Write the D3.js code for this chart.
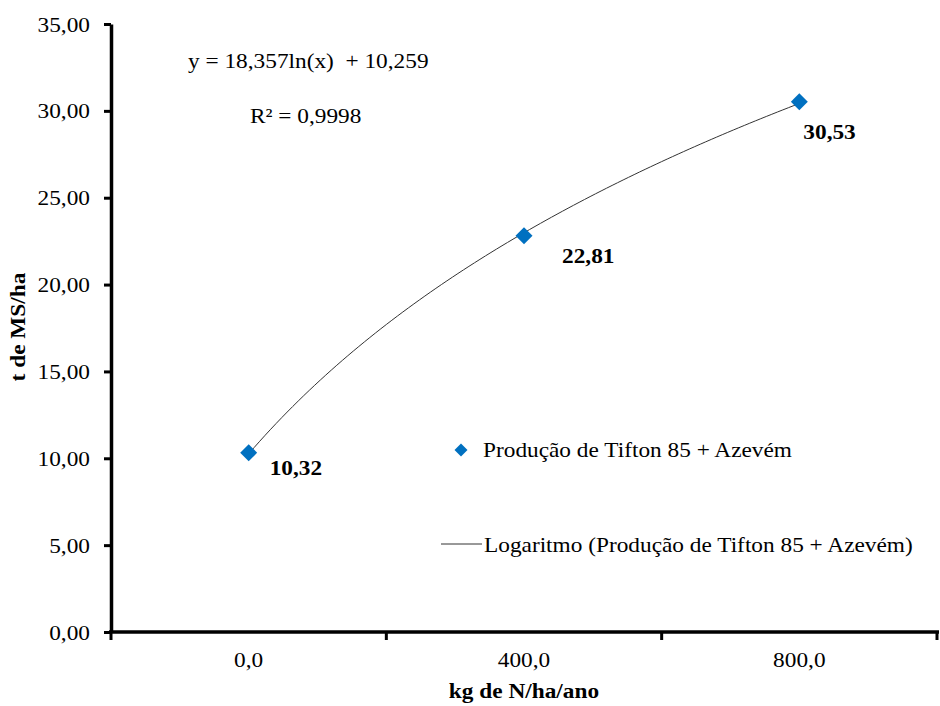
<!DOCTYPE html>
<html>
<head>
<meta charset="utf-8">
<script src="https://cdn.jsdelivr.net/npm/d3@7"></script>
<style>
  html, body { margin: 0; padding: 0; background: #fff; }
  svg { display: block; }
  svg text { font-family: "Liberation Serif", "Times New Roman", serif; fill: #000; }
</style>
</head>
<body>
<svg id="chart" width="940" height="706"></svg>
<script>
// Dry matter yield by nitrogen rate
const categories = ["0,0", "400,0", "800,0"];
const values = [10.32, 22.81, 30.53];
const yTicks = [0, 5, 10, 15, 20, 25, 30, 35];
// Logarithmic trend fitted on category index (1, 2, 3)
const trendA = 18.357;
const trendB = 10.259;
const trendR2 = "0,9998";
const seriesName = "Produção de Tifton 85 + Azevém";
const trendName = "Logaritmo (Produção de Tifton 85 + Azevém)";
const xTitle = "kg de N/ha/ano";
const yTitle = "t de MS/ha";

const fmt2 = d => d.toFixed(2).replace(".", ",");
const fmt3 = d => d.toFixed(3).replace(".", ",");

const svg = d3.select("#chart");
const plotLeft = 111, plotRight = 937, plotTop = 24, plotBottom = 632;
const FS = 22, SX = 1.06; // type size and slight horizontal widening of the glyphs

// Text placed at (px, py) with a horizontal stretch
function label(parent, px, py, str, anchor = "start", bold = false) {
  return parent.append("text")
    .attr("transform", `translate(${px},${py}) scale(${SX},1)`)
    .attr("text-anchor", anchor)
    .attr("font-size", FS)
    .attr("font-weight", bold ? "bold" : "normal")
    .attr("xml:space", "preserve")
    .text(str);
}

const x = d3.scaleBand().domain(categories).range([plotLeft, plotRight]).paddingInner(0).paddingOuter(0);
const y = d3.scaleLinear().domain([0, 35]).range([plotBottom, plotTop]);
const cx = c => x(c) + x.bandwidth() / 2;
// continuous x for the trend curve: index 1..n mapped to band centers
const xi = d3.scaleLinear().domain([1, categories.length])
  .range([cx(categories[0]), cx(categories[categories.length - 1])]);

// Y axis
const yAxis = svg.append("g").attr("transform", `translate(${plotLeft},0)`)
  .call(d3.axisLeft(y).tickValues(yTicks).tickFormat("").tickSize(7).tickSizeOuter(0));
yAxis.select(".domain").attr("stroke", "#000").attr("stroke-width", 3.5);
yAxis.selectAll(".tick line").attr("stroke", "#000").attr("stroke-width", 3);
const yLab = svg.append("g");
yTicks.forEach(t => label(yLab, 90, y(t) + 7.5, fmt2(t), "end"));

// X axis: ticks on category boundaries
const boundaries = categories.map(c => x(c)).concat([plotRight]);
const xAxisG = svg.append("g").attr("transform", `translate(0,${plotBottom})`);
xAxisG.append("line").attr("x1", plotLeft - 2).attr("x2", plotRight + 2).attr("y1", 0).attr("y2", 0)
  .attr("stroke", "#000").attr("stroke-width", 3.5);
xAxisG.selectAll("line.tk").data(boundaries).join("line").attr("class", "tk")
  .attr("x1", d => d).attr("x2", d => d).attr("y1", 0).attr("y2", 8)
  .attr("stroke", "#000").attr("stroke-width", 3);
const xLab = svg.append("g");
categories.forEach(c => label(xLab, cx(c), 667, c, "middle"));

// Axis titles
label(svg, 524, 698, xTitle, "middle", true);
svg.append("text").attr("transform", `translate(25,327) rotate(-90) scale(${SX},1)`)
  .attr("text-anchor", "middle").attr("font-size", FS).attr("font-weight", "bold").text(yTitle);

// Trend curve
const trendPts = d3.range(1, 3.0001, 0.02).map(t => [t, trendA * Math.log(t) + trendB]);
svg.append("path").datum(trendPts)
  .attr("d", d3.line().x(d => xi(d[0])).y(d => y(d[1])).curve(d3.curveBasis))
  .attr("fill", "none").attr("stroke", "#333").attr("stroke-width", 1);

// Markers
const blue = "#0070C0";
svg.selectAll("path.pt").data(values).join("path").attr("class", "pt")
  .attr("d", d3.symbol().type(d3.symbolSquare).size(144))
  .attr("transform", (d, i) => `translate(${cx(categories[i])},${y(d)}) rotate(45)`)
  .attr("fill", blue);

// Data labels (offset from each marker)
const labelOffsets = [[21, 22], [38, 27], [4, 37]];
values.forEach((v, i) => {
  label(svg, cx(categories[i]) + labelOffsets[i][0], y(v) + labelOffsets[i][1], fmt2(v), "start", true);
});

// Equation and R²
label(svg, 188, 68, `y = ${fmt3(trendA)}ln(x)  + ${fmt3(trendB)}`);
label(svg, 250, 123, `R² = ${trendR2}`);

// Legend
const lg = svg.append("g");
lg.append("path").attr("d", d3.symbol().type(d3.symbolSquare).size(85))
  .attr("transform", "translate(461,450) rotate(45)").attr("fill", blue);
label(lg, 483, 457, seriesName);
lg.append("line").attr("x1", 441).attr("x2", 482).attr("y1", 544).attr("y2", 544)
  .attr("stroke", "#333").attr("stroke-width", 1);
label(lg, 484, 552, trendName);
</script>
</body>
</html>
